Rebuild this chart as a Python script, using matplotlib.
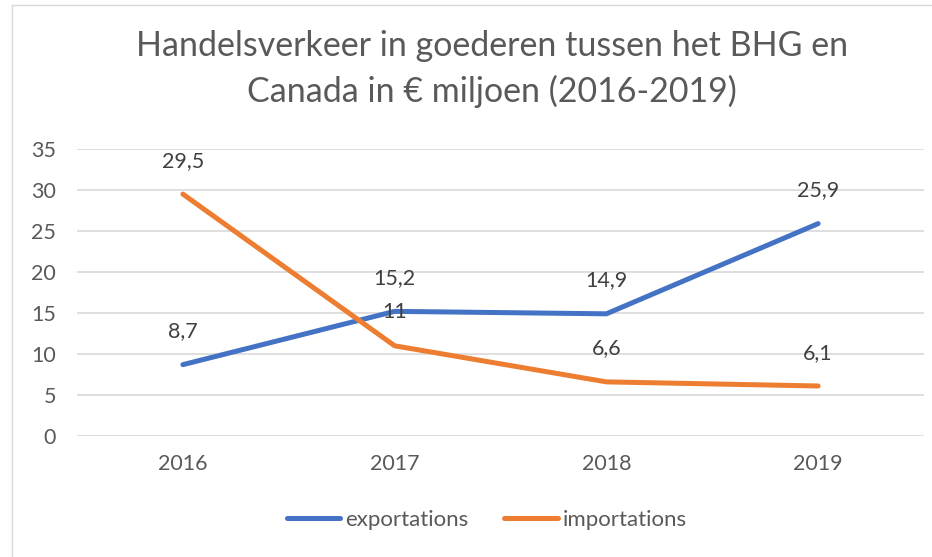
import matplotlib.pyplot as plt

years = ['2016', '2017', '2018', '2019']
exportations = [8.7, 15.2, 14.9, 25.9]
importations = [29.5, 11, 6.6, 6.1]

plt.rcParams['font.family'] = ['Lato', 'DejaVu Sans']

fig = plt.figure(figsize=(9.32, 5.57), dpi=100)
ax = fig.add_axes([77 / 932, 1 - 436 / 557, 847 / 932, 287 / 557])

blue = '#4472C4'
orange = '#ED7D31'
x = range(len(years))
ax.plot(x, exportations, color=blue, lw=3.6, solid_capstyle='round', label='exportations')
ax.plot(x, importations, color=orange, lw=3.6, solid_capstyle='round', label='importations')

def fmt(v):
    s = ('%.1f' % v).replace('.', ',')
    return s[:-2] if s.endswith(',0') else s

for series in (exportations, importations):
    for i, v in enumerate(series):
        ax.annotate(fmt(v), (i, v), xytext=(0, 24), textcoords='offset points',
                    ha='center', va='center', fontsize=15.5, color='#404040')

ax.set_xlim(-0.5, 3.5)
ax.set_ylim(0, 35)
ax.set_yticks(range(0, 36, 5))
ax.set_xticks(list(x))
ax.set_xticklabels(years)
ax.grid(axis='y', color='#D9D9D9', lw=1.2)
ax.set_axisbelow(True)
for s in ax.spines.values():
    s.set_visible(False)
ax.tick_params(length=0, labelsize=15.5, labelcolor='#595959')
ax.tick_params(axis='y', pad=15)
ax.tick_params(axis='x', pad=13)

fig.text(492 / 932, 1 - 46 / 557, 'Handelsverkeer in goederen tussen het BHG en', ha='center', va='center',
         fontsize=24.5, color='#595959')
fig.text(492 / 932, 1 - 91 / 557, 'Canada in € miljoen (2016-2019)', ha='center', va='center',
         fontsize=24.5, color='#595959')

fig.legend(loc='center', bbox_to_anchor=(487 / 932, 1 - 520 / 557), ncol=2, frameon=False,
           fontsize=16, labelcolor='#595959', handlelength=2.4, handletextpad=0.25,
           columnspacing=1.6)

fig.add_artist(plt.Line2D([12 / 932, 12 / 932], [0, 1 - 5 / 557], color='#D9D9D9', lw=1))
fig.add_artist(plt.Line2D([12 / 932, 1], [1 - 5 / 557, 1 - 5 / 557], color='#D9D9D9', lw=1))

fig.savefig('out.png', dpi=100)
